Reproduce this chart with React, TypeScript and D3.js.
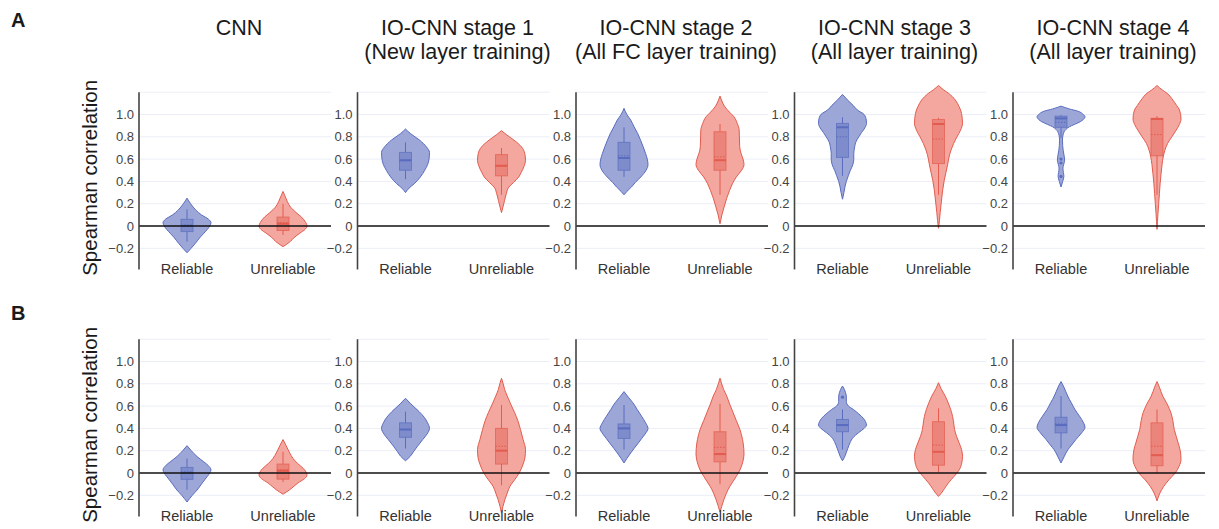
import * as d3 from "d3";

type Violin = {
  shape: [number, number][]; // [value, relative half-width]
  box: [number, number, number, number, number]; // lower whisker, q1, median, q3, upper whisker
  mean: number;
  outliers?: number[];
};

const panelTitles: string[][] = [
  ["CNN"],
  ["IO-CNN stage 1", "(New layer training)"],
  ["IO-CNN stage 2", "(All FC layer training)"],
  ["IO-CNN stage 3", "(All layer training)"],
  ["IO-CNN stage 4", "(All layer training)"],
];
const categories = ["Reliable", "Unreliable"];
const yTicks = [-0.2, 0, 0.2, 0.4, 0.6, 0.8, 1.0];
const yGrid = [-0.2, 0.2, 0.4, 0.6, 0.8, 1.0, 1.2];
const rowLetters = ["A", "B"];
const yTitle = "Spearman correlation";

// Row A: evaluation on the first set
const rowAReliable: Violin[] = [
  {
    shape: [[0.25, 0], [0.2, 0.15], [0.14, 0.38], [0.1, 0.6], [0.06, 0.9], [0.03, 1.0], [0.0, 0.95], [-0.03, 0.85], [-0.065, 0.7], [-0.1, 0.55], [-0.155, 0.35], [-0.2, 0.17], [-0.24, 0]],
    box: [-0.14, -0.05, 0.0, 0.06, 0.15], mean: 0.01,
  },
  {
    shape: [[0.87, 0], [0.83, 0.2], [0.77, 0.59], [0.71, 0.87], [0.66, 1.0], [0.6, 0.98], [0.55, 0.92], [0.5, 0.8], [0.44, 0.62], [0.38, 0.37], [0.34, 0.15], [0.3, 0]],
    box: [0.42, 0.5, 0.59, 0.66, 0.75], mean: 0.585,
  },
  {
    shape: [[1.055, 0], [1.0, 0.12], [0.95, 0.28], [0.89, 0.42], [0.83, 0.57], [0.77, 0.69], [0.71, 0.8], [0.65, 0.9], [0.6, 0.97], [0.55, 1.0], [0.5, 0.92], [0.44, 0.7], [0.39, 0.47], [0.35, 0.31], [0.31, 0.12], [0.28, 0]],
    box: [0.44, 0.5, 0.61, 0.75, 0.885], mean: 0.63,
  },
  {
    shape: [[1.18, 0], [1.13, 0.21], [1.08, 0.45], [1.04, 0.62], [1.0, 0.9], [0.95, 0.99], [0.92, 1.0], [0.88, 0.93], [0.84, 0.8], [0.8, 0.68], [0.75, 0.55], [0.7, 0.5], [0.65, 0.47], [0.6, 0.47], [0.55, 0.43], [0.5, 0.33], [0.45, 0.24], [0.4, 0.16], [0.35, 0.1], [0.3, 0.06], [0.24, 0]],
    box: [0.45, 0.615, 0.885, 0.92, 0.975], mean: 0.8,
  },
  {
    shape: [[1.075, 0], [1.05, 0.35], [1.03, 0.7], [1.0, 0.93], [0.98, 1.0], [0.955, 0.93], [0.935, 0.8], [0.91, 0.55], [0.89, 0.35], [0.865, 0.2], [0.845, 0.13], [0.81, 0.08], [0.77, 0.06], [0.72, 0.07], [0.68, 0.09], [0.63, 0.13], [0.59, 0.15], [0.55, 0.11], [0.52, 0.08], [0.48, 0.1], [0.445, 0.12], [0.4, 0.07], [0.35, 0]],
    box: [0.79, 0.885, 0.965, 0.985, 0.995], mean: 0.93, outliers: [0.6, 0.565, 0.445],
  },
];

const rowAUnreliable: Violin[] = [
  {
    shape: [[0.31, 0], [0.27, 0.08], [0.22, 0.18], [0.17, 0.31], [0.12, 0.55], [0.08, 0.77], [0.03, 0.95], [0.0, 1.0], [-0.03, 0.92], [-0.065, 0.7], [-0.1, 0.48], [-0.14, 0.3], [-0.185, 0]],
    box: [-0.08, -0.04, 0.02, 0.08, 0.2], mean: 0.03,
  },
  {
    shape: [[0.855, 0], [0.82, 0.2], [0.77, 0.52], [0.71, 0.83], [0.65, 0.97], [0.59, 1.0], [0.53, 0.93], [0.48, 0.82], [0.44, 0.72], [0.39, 0.5], [0.35, 0.31], [0.29, 0.2], [0.23, 0.13], [0.17, 0.06], [0.12, 0]],
    box: [0.28, 0.45, 0.54, 0.64, 0.7], mean: 0.54,
  },
  {
    shape: [[1.165, 0], [1.12, 0.08], [1.07, 0.2], [1.02, 0.4], [0.98, 0.58], [0.92, 0.72], [0.86, 0.8], [0.78, 0.81], [0.71, 0.82], [0.65, 0.88], [0.6, 0.96], [0.55, 1.0], [0.5, 0.9], [0.44, 0.68], [0.38, 0.52], [0.32, 0.4], [0.25, 0.28], [0.17, 0.17], [0.1, 0.08], [0.02, 0]],
    box: [0.28, 0.5, 0.59, 0.845, 0.915], mean: 0.62,
  },
  {
    shape: [[1.26, 0], [1.22, 0.22], [1.19, 0.42], [1.13, 0.7], [1.07, 0.86], [1.01, 0.96], [0.92, 1.0], [0.86, 0.92], [0.8, 0.77], [0.74, 0.63], [0.68, 0.52], [0.6, 0.42], [0.55, 0.38], [0.48, 0.31], [0.41, 0.24], [0.33, 0.18], [0.26, 0.14], [0.18, 0.1], [0.12, 0.07], [0.05, 0.04], [-0.02, 0]],
    box: [0.28, 0.56, 0.915, 0.955, 0.97], mean: 0.78,
  },
  {
    shape: [[1.26, 0], [1.22, 0.22], [1.19, 0.42], [1.13, 0.66], [1.08, 0.82], [1.04, 0.94], [0.96, 1.0], [0.91, 0.93], [0.86, 0.8], [0.8, 0.62], [0.74, 0.44], [0.68, 0.33], [0.62, 0.26], [0.55, 0.21], [0.47, 0.17], [0.38, 0.13], [0.29, 0.1], [0.2, 0.07], [0.11, 0.04], [0.04, 0.02], [-0.03, 0]],
    box: [0.28, 0.63, 0.96, 0.965, 0.985], mean: 0.82,
  },
];

// Row B: evaluation on the second set
const rowBReliable: Violin[] = [
  {
    shape: [[0.245, 0], [0.2, 0.18], [0.147, 0.42], [0.1, 0.7], [0.07, 0.87], [0.027, 1.0], [0.0, 0.95], [-0.03, 0.85], [-0.063, 0.73], [-0.1, 0.6], [-0.153, 0.42], [-0.2, 0.22], [-0.26, 0]],
    box: [-0.15, -0.057, 0.0, 0.05, 0.13], mean: 0.01,
  },
  {
    shape: [[0.67, 0], [0.62, 0.22], [0.55, 0.57], [0.5, 0.78], [0.45, 0.92], [0.4, 1.0], [0.35, 0.9], [0.3, 0.72], [0.24, 0.5], [0.19, 0.33], [0.15, 0.2], [0.11, 0]],
    box: [0.22, 0.32, 0.39, 0.45, 0.55], mean: 0.39,
  },
  {
    shape: [[0.73, 0], [0.68, 0.18], [0.63, 0.37], [0.57, 0.55], [0.51, 0.73], [0.45, 0.9], [0.4, 1.0], [0.35, 0.88], [0.31, 0.74], [0.27, 0.6], [0.22, 0.42], [0.18, 0.28], [0.13, 0.12], [0.09, 0]],
    box: [0.21, 0.31, 0.4, 0.44, 0.61], mean: 0.4,
  },
  {
    shape: [[0.78, 0], [0.75, 0.08], [0.72, 0.13], [0.68, 0.16], [0.64, 0.16], [0.6, 0.25], [0.57, 0.45], [0.53, 0.68], [0.49, 0.87], [0.46, 0.96], [0.43, 1.0], [0.4, 0.9], [0.36, 0.66], [0.32, 0.45], [0.27, 0.31], [0.22, 0.22], [0.18, 0.15], [0.14, 0.08], [0.11, 0]],
    box: [0.21, 0.37, 0.43, 0.48, 0.57], mean: 0.43, outliers: [0.68],
  },
  {
    shape: [[0.82, 0], [0.78, 0.1], [0.73, 0.2], [0.69, 0.28], [0.63, 0.43], [0.57, 0.58], [0.51, 0.77], [0.45, 0.94], [0.41, 1.0], [0.36, 0.86], [0.3, 0.62], [0.25, 0.44], [0.21, 0.29], [0.15, 0.14], [0.09, 0]],
    box: [0.22, 0.36, 0.43, 0.5, 0.69], mean: 0.44,
  },
];

const rowBUnreliable: Violin[] = [
  {
    shape: [[0.3, 0], [0.25, 0.12], [0.18, 0.28], [0.13, 0.42], [0.087, 0.6], [0.04, 0.85], [0.0, 0.98], [-0.02, 1.0], [-0.05, 0.9], [-0.09, 0.62], [-0.12, 0.45], [-0.15, 0.28], [-0.19, 0]],
    box: [-0.08, -0.055, 0.02, 0.08, 0.19], mean: 0.03,
  },
  {
    shape: [[0.85, 0], [0.8, 0.07], [0.75, 0.13], [0.69, 0.24], [0.62, 0.38], [0.54, 0.55], [0.47, 0.68], [0.39, 0.79], [0.3, 0.9], [0.21, 1.0], [0.14, 0.98], [0.08, 0.9], [0.027, 0.8], [-0.03, 0.65], [-0.08, 0.48], [-0.12, 0.35], [-0.18, 0.24], [-0.24, 0.14], [-0.3, 0.06], [-0.36, 0]],
    box: [-0.11, 0.08, 0.2, 0.4, 0.61], mean: 0.24,
  },
  {
    shape: [[0.85, 0], [0.8, 0.07], [0.75, 0.15], [0.69, 0.28], [0.62, 0.4], [0.54, 0.55], [0.47, 0.68], [0.39, 0.83], [0.3, 0.94], [0.22, 0.99], [0.17, 1.0], [0.1, 0.95], [0.027, 0.83], [-0.03, 0.68], [-0.08, 0.53], [-0.12, 0.41], [-0.18, 0.27], [-0.24, 0.16], [-0.3, 0.07], [-0.35, 0]],
    box: [-0.1, 0.1, 0.17, 0.37, 0.62], mean: 0.23,
  },
  {
    shape: [[0.81, 0], [0.76, 0.1], [0.69, 0.28], [0.62, 0.42], [0.54, 0.55], [0.47, 0.62], [0.39, 0.67], [0.33, 0.75], [0.27, 0.86], [0.21, 0.96], [0.15, 1.0], [0.09, 0.97], [0.027, 0.86], [-0.03, 0.65], [-0.09, 0.41], [-0.14, 0.25], [-0.18, 0.12], [-0.21, 0]],
    box: [0.01, 0.07, 0.19, 0.46, 0.58], mean: 0.25,
  },
  {
    shape: [[0.82, 0], [0.77, 0.1], [0.69, 0.24], [0.62, 0.42], [0.54, 0.58], [0.47, 0.66], [0.39, 0.72], [0.33, 0.8], [0.27, 0.88], [0.2, 0.97], [0.12, 1.0], [0.06, 0.92], [0.0, 0.76], [-0.06, 0.5], [-0.12, 0.28], [-0.18, 0.12], [-0.25, 0]],
    box: [0.0, 0.065, 0.16, 0.45, 0.57], mean: 0.24,
  },
];

const rows = [
  { reliable: rowAReliable, unreliable: rowAUnreliable, zero: 226 },
  { reliable: rowBReliable, unreliable: rowBUnreliable, zero: 473 },
];

const W = 1219;
const H = 529;
const PANEL_X0 = 139;
const PANEL_STEP = 218.5;
const PANEL_W = 192;
const PX_PER_UNIT = 111.5;
const Y_MIN = -0.39;
const Y_MAX = 1.2;
const HALF_W = 24;
const BOX_W = 12;
const FONT = "'Liberation Sans', Arial, Helvetica, sans-serif";

const palette = {
  Reliable: { line: "#5a6cbf", fill: "#94a0d4" },
  Unreliable: { line: "#e25c4f", fill: "#f2a097" },
} as Record<string, { line: string; fill: string }>;

function ViolinMark({ v, cx, y, cat }: { v: Violin; cx: number; y: d3.ScaleLinear<number, number>; cat: string }) {
  const w = d3.scaleLinear().domain([0, 1]).range([0, HALF_W]);
  const area = d3
    .area<[number, number]>()
    .y((d) => y(d[0]))
    .x0((d) => cx - w(d[1]))
    .x1((d) => cx + w(d[1]))
    .curve(d3.curveMonotoneY);
  const pts = [...v.shape].sort((a, b) => b[0] - a[0]);
  const c = palette[cat];
  const [lo, q1, med, q3, hi] = v.box;
  return (
    <g>
      <path d={area(pts) ?? ""} fill={c.fill} fillOpacity={0.92} stroke={c.line} strokeWidth={1} />
      <line x1={cx} x2={cx} y1={y(hi)} y2={y(q3)} stroke={c.line} strokeWidth={1} />
      <line x1={cx} x2={cx} y1={y(q1)} y2={y(lo)} stroke={c.line} strokeWidth={1} />
      <rect
        x={cx - BOX_W / 2}
        y={y(q3)}
        width={BOX_W}
        height={Math.max(1, y(q1) - y(q3))}
        fill={c.line}
        fillOpacity={0.45}
        stroke={c.line}
        strokeOpacity={0.7}
        strokeWidth={1}
      />
      <line x1={cx - BOX_W / 2} x2={cx + BOX_W / 2} y1={y(med)} y2={y(med)} stroke={c.line} strokeWidth={2} />
      <line
        x1={cx - BOX_W / 2}
        x2={cx + BOX_W / 2}
        y1={y(v.mean)}
        y2={y(v.mean)}
        stroke={c.line}
        strokeWidth={1}
        strokeDasharray="1.5,1.5"
      />
      {(v.outliers ?? []).map((o, i) => (
        <circle key={i} cx={cx} cy={y(o)} r={1.6} fill={c.line} />
      ))}
    </g>
  );
}

export default function App() {
  return (
    <svg width={W} height={H} style={{ position: "absolute", left: 0, top: 0, background: "#fff" }} fontFamily={FONT}>
      {panelTitles.map((lines, p) => {
        const cx = PANEL_X0 + p * PANEL_STEP + PANEL_W / 2 + 4;
        return (
          <g key={"t" + p}>
            {lines.map((t, i) => (
              <text key={i} x={cx} y={35 + i * 23.5} textAnchor="middle" fontSize={21.5} fill="#1a1a1a">
                {t}
              </text>
            ))}
          </g>
        );
      })}

      {rows.map((row, r) => {
        const y = d3
          .scaleLinear()
          .domain([Y_MIN, Y_MAX])
          .range([row.zero - Y_MIN * PX_PER_UNIT, row.zero - Y_MAX * PX_PER_UNIT]);
        const top = y(Y_MAX);
        const bottom = y(Y_MIN);
        const midY = (top + bottom) / 2 - 3;
        return (
          <g key={"r" + r}>
            <text x={11} y={r === 0 ? 27 : 320} fontSize={20} fontWeight="bold" fill="#1a1a1a">
              {rowLetters[r]}
            </text>
            <text
              transform={`translate(97,${midY}) rotate(-90)`}
              textAnchor="middle"
              fontSize={20.5}
              fill="#1a1a1a"
            >
              {yTitle}
            </text>
            {panelTitles.map((_, p) => {
              const left = PANEL_X0 + p * PANEL_STEP;
              const x = d3.scaleBand<string>().domain(categories).range([left, left + PANEL_W]);
              const sets = [row.reliable[p], row.unreliable[p]];
              return (
                <g key={"p" + p}>
                  {yGrid.map((g) => (
                    <line key={g} x1={left} x2={left + PANEL_W} y1={y(g)} y2={y(g)} stroke="#eceef7" strokeWidth={1} />
                  ))}
                  {yTicks.map((t) => (
                    <text
                      key={t}
                      x={left - 5}
                      y={y(t)}
                      dy="0.35em"
                      textAnchor="end"
                      fontSize={13}
                      fill="#444"
                    >
                      {t === 0 ? "0" : d3.format(".1f")(t)}
                    </text>
                  ))}
                  {categories.map((c, i) => (
                    <ViolinMark key={c} v={sets[i]} cx={(x(c) ?? 0) + x.bandwidth() / 2} y={y} cat={c} />
                  ))}
                  <line x1={left} x2={left + PANEL_W} y1={y(0)} y2={y(0)} stroke="#111" strokeWidth={1.5} />
                  <line x1={left} x2={left} y1={top} y2={bottom} stroke="#444" strokeWidth={1.6} />
                  {categories.map((c) => (
                    <text
                      key={c}
                      x={(x(c) ?? 0) + x.bandwidth() / 2}
                      y={y(0) + 48}
                      textAnchor="middle"
                      fontSize={14.5}
                      fill="#333"
                    >
                      {c}
                    </text>
                  ))}
                </g>
              );
            })}
          </g>
        );
      })}
    </svg>
  );
}
